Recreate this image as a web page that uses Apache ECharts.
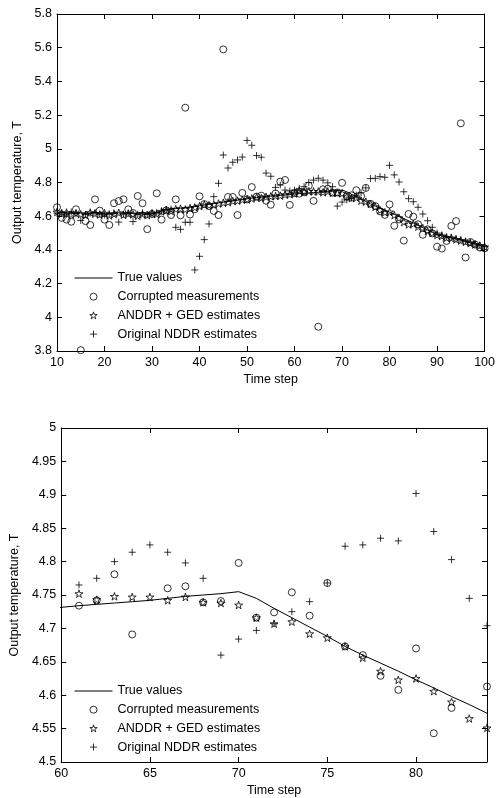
<!DOCTYPE html>
<html><head><meta charset="utf-8">
<script src="https://cdn.jsdelivr.net/npm/echarts@6/dist/echarts.min.js"></script>
<style>html,body{margin:0;padding:0;background:#fff}#c{width:498px;height:798px}</style>
</head><body><div id="c"></div><script>
const timeSteps = [10,11,12,13,14,15,16,17,18,19,20,21,22,23,24,25,26,27,28,29,30,31,32,33,34,35,36,37,38,39,40,41,42,43,44,45,46,47,48,49,50,51,52,53,54,55,56,57,58,59,60,61,62,63,64,65,66,67,68,69,70,71,72,73,74,75,76,77,78,79,80,81,82,83,84,85,86,87,88,89,90,91,92,93,94,95,96,97,98,99,100];
const trueValues = [4.620,4.619,4.620,4.618,4.619,4.620,4.618,4.617,4.619,4.620,4.618,4.617,4.618,4.620,4.619,4.618,4.617,4.619,4.620,4.618,4.619,4.620,
  4.630,4.640,4.644,4.646,4.648,4.650,4.653,
  4.657,4.662,4.667,4.671,4.675,4.679,4.683,4.687,4.691,4.695,4.699,4.703,4.707,4.710,4.713,4.716,4.719,4.721,4.724,4.726,4.729,4.7315,
  4.734,4.736,4.738,4.740,4.742,4.745,4.748,4.750,4.752,4.755,
  4.745,4.730,4.716,4.702,4.688,4.673,4.660,4.648,4.636,4.623,4.611,4.598,4.586,4.573,
  4.560,4.546,4.532,4.518,4.504,4.491,4.483,4.477,4.471,4.465,4.459,4.451,4.443,4.435,4.427,4.419];
const corrupted = [4.653,4.590,4.580,4.567,4.641,3.805,4.571,4.548,4.700,4.633,4.580,4.548,4.677,4.690,4.700,4.641,4.619,4.720,4.677,4.523,4.613,4.736,
  4.580,4.635,4.607,4.700,4.605,5.244,4.610,
  4.641,4.718,4.672,4.660,4.631,4.607,5.590,4.714,4.714,4.607,4.738,4.700,4.773,4.716,4.722,4.692,4.668,4.735,4.805,4.815,4.667,4.737,
  4.734,4.742,4.781,4.691,3.944,4.760,4.763,4.739,4.741,4.798,
  4.716,4.724,4.754,4.719,4.768,4.673,4.660,4.629,4.608,4.670,4.543,4.581,4.455,4.613,
  4.597,4.552,4.490,4.522,4.498,4.419,4.408,4.453,4.542,4.571,5.151,4.355,4.447,4.432,4.414,4.409];
const anddrGed = [4.625,4.615,4.622,4.610,4.618,4.612,4.608,4.622,4.615,4.610,4.618,4.605,4.612,4.620,4.608,4.615,4.610,4.602,4.612,4.606,4.618,4.612,
  4.628,4.635,4.630,4.642,4.645,4.640,4.648,
  4.652,4.660,4.668,4.665,4.670,4.675,4.680,4.683,4.690,4.692,4.698,4.700,4.705,4.712,4.708,4.715,4.718,4.720,4.722,4.728,4.730,4.735,
  4.752,4.743,4.748,4.747,4.747,4.742,4.747,4.739,4.738,4.735,
  4.716,4.707,4.710,4.692,4.686,4.673,4.656,4.636,4.623,4.625,4.606,4.590,4.565,4.551,
  4.555,4.538,4.530,4.512,4.500,4.488,4.482,4.472,4.470,4.462,4.455,4.448,4.440,4.432,4.425,4.418];
const originalNddr = [4.618,4.622,4.612,4.625,4.615,4.575,4.610,4.618,4.622,4.612,4.608,4.615,4.620,4.565,4.612,4.618,4.568,4.612,4.620,4.610,4.615,4.622,
  4.630,4.640,4.642,4.534,4.522,4.564,4.564,
  4.281,4.362,4.461,4.554,4.716,4.795,4.963,4.886,4.920,4.934,4.951,5.050,5.021,4.960,4.950,4.856,4.837,4.771,4.785,4.755,4.750,4.755,
  4.765,4.775,4.800,4.814,4.825,4.814,4.798,4.775,4.660,4.684,
  4.697,4.707,4.725,4.740,4.768,4.823,4.825,4.835,4.831,4.902,4.845,4.803,4.745,4.704,
  4.686,4.653,4.613,4.573,4.534,4.500,4.488,4.478,4.475,4.466,4.460,4.452,4.445,4.436,4.428,4.420];

const topXTicks = ['10','20','30','40','50','60','70','80','90','100'];
const topYTicks = ['3.8','4','4.2','4.4','4.6','4.8','5','5.2','5.4','5.6','5.8'];
const bottomXTicks = ['60','65','70','75','80'];
const bottomYTicks = ['4.5','4.55','4.6','4.65','4.7','4.75','4.8','4.85','4.9','4.95','5'];
const seriesNames = ['True values','Corrupted measurements','ANDDR + GED estimates','Original NDDR estimates'];
const xName = 'Time step';
const yName = 'Output temperature, T';
const zoomFirstMarkerStep = 61;

const FONT = '"Liberation Sans", Arial, sans-serif';
const FS = 12.5;
const STAR = 'path://M100,0L122.45,69.1L195.1,69.1L136.3,111.8L158.8,180.9L100,138.2L41.2,180.9L63.7,111.8L4.9,69.1L77.55,69.1Z';
const PLUS = 'path://M0,5L10,5M5,0L5,10';

function fmt(ticks){ return v => { const s = String(+(+v).toFixed(3)); return ticks.indexOf(s) >= 0 ? s : ''; }; }
function pairs(arr, fromStep){
  const out = [];
  timeSteps.forEach((t,i) => { if (fromStep == null || t >= fromStep) out.push([t, arr[i]]); });
  return out;
}

function axis(kind, grid, min, max, interval, ticks, pos, main){
  const a = {
    type:'value', gridIndex:grid, min, max, interval, position:pos,
    axisLine:{show:true, onZero:false, lineStyle:{color:'#000', width:1}},
    axisTick:{show:true, inside:true, length:5, lineStyle:{color:'#000', width:1}},
    axisLabel:{show:main, margin:5, color:'#000', fontSize:FS, fontFamily:FONT, formatter:fmt(ticks)},
    splitLine:{show:false}
  };
  if (main){
    a.name = kind === 'x' ? xName : yName;
    a.nameLocation = 'middle';
    a.nameGap = kind === 'x' ? 22 : 28;
    a.nameTextStyle = {color:'#000', fontSize:FS, fontFamily:FONT};
    if (kind === 'y') a.nameRotate = 90;
  }
  return a;
}

const grids = [
  {left:57, right:11, top:14, height:337},
  {left:57, right:11, top:428, height:337}
];
const xAxes = [
  axis('x',0,10,100,10,topXTicks,'bottom',true),
  axis('x',0,10,100,10,topXTicks,'top',false),
  axis('x',1,60,84,5,bottomXTicks,'bottom',true),
  axis('x',1,60,84,5,bottomXTicks,'top',false)
];
const yAxes = [
  axis('y',0,3.8,5.8,0.2,topYTicks,'left',true),
  axis('y',0,3.8,5.8,0.2,topYTicks,'right',false),
  axis('y',1,4.5,5,0.05,bottomYTicks,'left',true),
  axis('y',1,4.5,5,0.05,bottomYTicks,'right',false)
];

const hollow = {color:'rgba(0,0,0,0)', borderColor:'#000', borderWidth:1};
function seriesFor(g){
  const xi = g*2, yi = g*2;
  const from = g === 1 ? zoomFirstMarkerStep : null;
  return [
    {name:seriesNames[0], type:'line', xAxisIndex:xi, yAxisIndex:yi, data:pairs(trueValues), symbol:'none',
     lineStyle:{color:'#000', width:1}, itemStyle:{color:'#000'}, clip:true, z:2},
    {name:seriesNames[1], type:'scatter', xAxisIndex:xi, yAxisIndex:yi, data:pairs(corrupted, from), symbol:'circle',
     symbolSize:7, itemStyle:hollow, clip:true, z:3},
    {name:seriesNames[2], type:'scatter', xAxisIndex:xi, yAxisIndex:yi, data:pairs(anddrGed, from), symbol:STAR,
     symbolSize:8, symbolKeepAspect:true, itemStyle:hollow, clip:true, z:4},
    {name:seriesNames[3], type:'scatter', xAxisIndex:xi, yAxisIndex:yi, data:pairs(originalNddr, from), symbol:PLUS,
     symbolSize:7, itemStyle:hollow, clip:true, z:5}
  ];
}

const legendData = seriesNames.map((n,i) => i === 0
  ? {name:n, itemStyle:{color:'rgba(0,0,0,0)', borderColor:'rgba(0,0,0,0)', borderWidth:0, opacity:0}}
  : {name:n});

const legends = [271, 684].map(top => ({
  orient:'vertical', left:74, top, padding:0, itemGap:4.7, itemWidth:38, itemHeight:7,
  data:legendData, selectedMode:false,
  textStyle:{color:'#000', fontSize:FS, fontFamily:FONT, lineHeight:14},
  itemStyle:{borderWidth:1}, lineStyle:{width:1, color:'#000'}
}));

const chart = echarts.init(document.getElementById('c'), null, {renderer:'canvas'});
chart.setOption({
  animation:false,
  backgroundColor:'#fff',
  grid:grids, xAxis:xAxes, yAxis:yAxes,
  legend:legends,
  series:seriesFor(0).concat(seriesFor(1))
});
</script></body></html>
